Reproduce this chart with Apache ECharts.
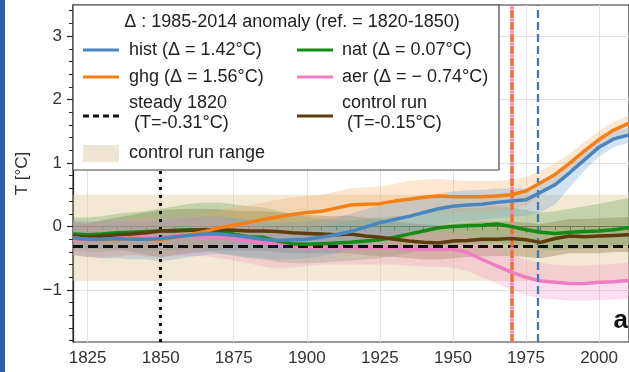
<!DOCTYPE html>
<html>
<head>
<meta charset="utf-8">
<title>T anomaly</title>
<script src="https://cdn.jsdelivr.net/npm/echarts@6/dist/echarts.min.js"></script>
<style>
  html, body { margin: 0; padding: 0; background: #fff; }
  #main { width: 629px; height: 372px; }
</style>
</head>
<body>
<div id="main"></div>
<script type="text/javascript">
// years (5-year steps)
const years = [1820, 1825, 1830, 1835, 1840, 1845, 1850, 1855, 1860, 1865,
               1870, 1875, 1880, 1885, 1890, 1895, 1900, 1905, 1910, 1915,
               1920, 1925, 1930, 1935, 1940, 1945, 1950, 1955, 1960, 1965,
               1970, 1975, 1980, 1985, 1990, 1995, 2000, 2005, 2010, 2015];

// ensemble means [°C]
const hist = [-0.18, -0.2, -0.2, -0.19, -0.2, -0.2, -0.19, -0.16, -0.14, -0.12,
              -0.12, -0.14, -0.17, -0.2, -0.22, -0.21, -0.2, -0.17, -0.13, -0.08,
              -0.01, 0.06, 0.11, 0.16, 0.22, 0.28, 0.32, 0.34, 0.35, 0.38,
              0.4, 0.42, 0.54, 0.66, 0.85, 1.05, 1.25, 1.38, 1.44, 1.48];
const ghg = [-0.18, -0.2, -0.21, -0.2, -0.18, -0.2, -0.21, -0.17, -0.13, -0.08,
             -0.02, 0.02, 0.06, 0.11, 0.15, 0.19, 0.22, 0.24, 0.29, 0.34,
             0.35, 0.36, 0.4, 0.43, 0.46, 0.48, 0.47, 0.47, 0.47, 0.48,
             0.5, 0.56, 0.69, 0.82, 1.0, 1.19, 1.37, 1.52, 1.62, 1.68];
const nat = [-0.12, -0.13, -0.12, -0.1, -0.09, -0.08, -0.07, -0.06, -0.05, -0.06,
             -0.09, -0.12, -0.16, -0.17, -0.23, -0.27, -0.28, -0.27, -0.26, -0.25,
             -0.23, -0.21, -0.17, -0.12, -0.07, -0.02, 0.0, 0.01, 0.02, 0.04,
             0.0, -0.05, -0.09, -0.11, -0.09, -0.08, -0.07, -0.05, -0.02, 0.0];
const aer = [-0.2, -0.21, -0.2, -0.18, -0.17, -0.16, -0.17, -0.15, -0.15, -0.16,
             -0.17, -0.2, -0.23, -0.26, -0.28, -0.31, -0.33, -0.33, -0.33, -0.33,
             -0.33, -0.33, -0.34, -0.35, -0.36, -0.36, -0.36, -0.41, -0.52, -0.62,
             -0.72, -0.8, -0.86, -0.88, -0.9, -0.9, -0.88, -0.87, -0.85, -0.85];
const ctrl = [-0.15, -0.17, -0.15, -0.13, -0.12, -0.1, -0.07, -0.07, -0.06, -0.05,
              -0.05, -0.06, -0.07, -0.07, -0.08, -0.1, -0.11, -0.12, -0.13, -0.12,
              -0.15, -0.17, -0.2, -0.23, -0.25, -0.26, -0.23, -0.22, -0.2, -0.2,
              -0.19, -0.21, -0.25, -0.19, -0.15, -0.16, -0.15, -0.14, -0.13, -0.13];

// ensemble spread (lower / upper)
const histLo = [-0.45, -0.48, -0.5, -0.5, -0.52, -0.52, -0.55, -0.52, -0.48, -0.45,
                -0.43, -0.45, -0.48, -0.5, -0.52, -0.52, -0.5, -0.47, -0.42, -0.36,
                -0.3, -0.22, -0.16, -0.1, -0.04, 0.02, 0.06, 0.08, 0.1, 0.13,
                0.15, 0.17, 0.22, 0.35, 0.62, 0.88, 1.1, 1.25, 1.32, 1.36];
const histHi = [0.1, 0.08, 0.08, 0.09, 0.08, 0.08, 0.1, 0.12, 0.14, 0.16,
                0.16, 0.14, 0.11, 0.08, 0.06, 0.07, 0.08, 0.11, 0.15, 0.2,
                0.27, 0.33, 0.38, 0.42, 0.47, 0.52, 0.55, 0.57, 0.58, 0.6,
                0.6, 0.6, 0.68, 0.8, 0.98, 1.17, 1.37, 1.5, 1.56, 1.6];
const ghgLo = [-0.45, -0.48, -0.5, -0.48, -0.45, -0.48, -0.5, -0.45, -0.4, -0.35,
               -0.28, -0.24, -0.2, -0.15, -0.1, -0.06, -0.03, 0.0, 0.04, 0.08,
               0.1, 0.11, 0.14, 0.17, 0.2, 0.22, 0.22, 0.22, 0.22, 0.24,
               0.27, 0.33, 0.48, 0.65, 0.85, 1.05, 1.23, 1.38, 1.48, 1.55];
const ghgHi = [0.08, 0.06, 0.05, 0.07, 0.1, 0.08, 0.07, 0.1, 0.14, 0.2,
               0.25, 0.3, 0.33, 0.38, 0.42, 0.46, 0.48, 0.5, 0.55, 0.6,
               0.62, 0.63, 0.67, 0.72, 0.74, 0.75, 0.73, 0.72, 0.72, 0.72,
               0.74, 0.78, 0.88, 1.0, 1.15, 1.33, 1.5, 1.65, 1.75, 1.8];
const natLo = [-0.38, -0.4, -0.4, -0.38, -0.38, -0.38, -0.38, -0.37, -0.36, -0.38,
               -0.42, -0.46, -0.5, -0.52, -0.56, -0.58, -0.58, -0.57, -0.55, -0.54,
               -0.52, -0.5, -0.46, -0.42, -0.37, -0.32, -0.3, -0.28, -0.28, -0.26,
               -0.28, -0.32, -0.36, -0.38, -0.36, -0.35, -0.34, -0.32, -0.3, -0.28];
const natHi = [0.14, 0.14, 0.16, 0.2, 0.22, 0.25, 0.28, 0.32, 0.36, 0.38,
               0.38, 0.35, 0.32, 0.3, 0.25, 0.2, 0.15, 0.12, 0.1, 0.1,
               0.12, 0.14, 0.16, 0.18, 0.22, 0.26, 0.28, 0.3, 0.3, 0.32,
               0.3, 0.26, 0.22, 0.24, 0.28, 0.32, 0.36, 0.4, 0.45, 0.48];
const aerLo = [-0.45, -0.48, -0.48, -0.46, -0.45, -0.46, -0.48, -0.47, -0.46, -0.47,
               -0.5, -0.53, -0.58, -0.63, -0.66, -0.65, -0.62, -0.6, -0.6, -0.6,
               -0.6, -0.6, -0.6, -0.62, -0.63, -0.63, -0.65, -0.7, -0.8, -0.9,
               -1.0, -1.08, -1.13, -1.15, -1.17, -1.17, -1.16, -1.15, -1.14, -1.14];
const aerHi = [0.08, 0.05, 0.07, 0.1, 0.12, 0.13, 0.12, 0.14, 0.14, 0.13,
               0.12, 0.08, 0.04, 0.0, -0.03, -0.05, -0.06, -0.06, -0.06, -0.06,
               -0.06, -0.06, -0.07, -0.08, -0.09, -0.1, -0.1, -0.14, -0.25, -0.35,
               -0.45, -0.52, -0.57, -0.6, -0.62, -0.62, -0.6, -0.59, -0.57, -0.56];
const ctrlLo = [-0.32, -0.35, -0.35, -0.36, -0.4, -0.45, -0.48, -0.45, -0.42, -0.4,
                -0.38, -0.38, -0.38, -0.38, -0.4, -0.42, -0.42, -0.42, -0.42, -0.42,
                -0.45, -0.47, -0.48, -0.5, -0.52, -0.52, -0.5, -0.48, -0.47, -0.47,
                -0.46, -0.48, -0.5, -0.46, -0.42, -0.42, -0.42, -0.4, -0.4, -0.4];
const ctrlHi = [0.05, 0.05, 0.1, 0.14, 0.18, 0.22, 0.26, 0.27, 0.28, 0.28,
                0.27, 0.25, 0.24, 0.24, 0.22, 0.2, 0.18, 0.17, 0.16, 0.17,
                0.14, 0.12, 0.08, 0.05, 0.03, 0.02, 0.04, 0.06, 0.08, 0.08,
                0.08, 0.06, 0.04, 0.08, 0.12, 0.12, 0.13, 0.14, 0.15, 0.15];

// reference levels
const steady1820 = -0.31;
const ctrlRange = [-0.86, 0.5];
const refYear = 1850;
const ghgYear = 1970;
const histYear = 1979;

// ticks
const xMajor = [1825, 1850, 1875, 1900, 1925, 1950, 1975, 2000];
const yMajor = [-1, 0, 1, 2, 3];
const xMinor = [];
for (let v = 1820; v <= 2010; v += 5) if (v % 25 !== 0) xMinor.push(v);
const yMinor = [];
for (let k = -9; k <= 17; k++) if (k % 5 !== 0) yMinor.push(+(k * 0.2).toFixed(1));

const C = {
    hist: '#4a85c0', ghg: '#f57f17', nat: '#158a15', aer: '#f07cc4', ctrl: '#5e3c0c'
};
const FONT = 'Liberation Sans, Arial, sans-serif';

function pairs(v) { return years.map((y, i) => [y, v[i]]); }

// spread band as one polygon through the axis scales
function band(name, lo, hi, color) {
    return {
        type: 'custom', name: name + 'Band', data: [[years[0], lo[0]]], silent: true, z: 2, clip: true,
        renderItem: function (params, api) {
            const pts = [];
            for (let i = 0; i < years.length; i++) pts.push(api.coord([years[i], hi[i]]));
            for (let i = years.length - 1; i >= 0; i--) pts.push(api.coord([years[i], lo[i]]));
            return { type: 'polygon', shape: { points: pts }, style: { fill: color } };
        }
    };
}

function mean(name, v, color, z) {
    return { type: 'line', name: name, data: pairs(v), symbol: 'none',
             lineStyle: { color: color, width: 3.5 }, silent: true, z: z || 4 };
}

let myChart = echarts.init(document.getElementById('main'));

const xMin = 1820, xMax = 2010.25;
const yMin = -1.82, yMax = 3.49;

// legend drawn by hand (two columns)
const lx1 = 83, lx2 = 297, tx1 = 129, tx2 = 342;
const LF = '18px ' + FONT;
const txt = (x, y, s, align) => ({
    type: 'text', x: x, y: y, z: 101,
    style: { text: s, fill: '#222', font: LF, verticalAlign: 'middle', align: align || 'left' }
});
const seg = (x, y, color, dash) => ({
    type: 'line', z: 101,
    shape: { x1: x, y1: y, x2: x + 36, y2: y },
    style: { stroke: color, lineWidth: 3, lineDash: dash || null }
});

myChart.setOption({
    animation: false,
    grid: { left: 73, top: 5, right: -2, bottom: 30, show: true, borderColor: '#333', borderWidth: 1.2 },
    xAxis: [{
        type: 'value', min: xMin, max: xMax, position: 'bottom',
        axisLine: { lineStyle: { color: '#222', width: 1.2 } },
        axisTick: { customValues: xMajor, length: 6, lineStyle: { color: '#222', width: 1.2 } },
        axisLabel: { customValues: xMajor, fontSize: 17, color: '#333', margin: 8, fontFamily: FONT,
                     formatter: v => String(v) },
        splitLine: { show: true, lineStyle: { color: '#e2e2e2', width: 1 } }
    }, {
        type: 'value', min: xMin, max: xMax, position: 'bottom', offset: 0,
        axisLine: { show: false },
        axisTick: { customValues: xMinor, length: 4, lineStyle: { color: '#222', width: 1 } },
        axisLabel: { show: false }, splitLine: { show: false }
    }],
    yAxis: [{
        type: 'value', min: yMin, max: yMax, position: 'left',
        name: 'T [°C]', nameLocation: 'middle', nameGap: 42, nameRotate: 90,
        nameTextStyle: { fontSize: 17, color: '#333', fontFamily: FONT },
        axisLine: { show: true, lineStyle: { color: '#222', width: 1.2 } },
        axisTick: { show: true, customValues: yMajor, length: 6, lineStyle: { color: '#222', width: 1.2 } },
        axisLabel: { customValues: yMajor, fontSize: 17, color: '#333', margin: 11, fontFamily: FONT,
                     formatter: v => (v < 0 ? '\u2212' + Math.abs(v) : '' + v) },
        splitLine: { show: true, lineStyle: { color: '#e2e2e2', width: 1 } }
    }, {
        type: 'value', min: yMin, max: yMax, position: 'left', offset: 0,
        axisLine: { show: false },
        axisTick: { show: true, customValues: yMinor, length: 4, lineStyle: { color: '#222', width: 1 } },
        axisLabel: { show: false }, splitLine: { show: false }
    }],
    series: [
        { type: 'line', name: 'range', data: [], silent: true, z: 1,
          markArea: { silent: true, itemStyle: { color: 'rgba(226,205,160,0.45)' },
                      data: [[{ yAxis: ctrlRange[0] }, { yAxis: ctrlRange[1] }]] } },
        band('ctrl', ctrlLo, ctrlHi, 'rgba(130,95,50,0.32)'),
        band('nat', natLo, natHi, 'rgba(90,160,80,0.3)'),
        band('aer', aerLo, aerHi, 'rgba(245,140,195,0.28)'),
        band('ghg', ghgLo, ghgHi, 'rgba(250,165,90,0.28)'),
        band('hist', histLo, histHi, 'rgba(110,160,210,0.3)'),
        mean('aer', aer, C.aer, 4),
        mean('nat', nat, C.nat, 5),
        mean('ctrl', ctrl, C.ctrl, 6),
        mean('ghg', ghg, C.ghg, 7),
        mean('hist', hist, C.hist, 8),
        { type: 'line', name: 'refs', data: [], silent: true, z: 9,
          markLine: {
              silent: true, symbol: 'none', label: { show: false }, animation: false,
              data: [
                  { yAxis: steady1820, lineStyle: { color: '#111', width: 2.8, type: [10, 5] } },
                  { xAxis: refYear, lineStyle: { color: '#111', width: 3, type: [3, 5] } },
                  { xAxis: ghgYear, lineStyle: { color: '#f0703a', width: 3.5, type: [8, 4] } },
                  { xAxis: ghgYear, lineStyle: { color: '#f47cc0', width: 3.5, type: [3, 9], dashOffset: -8.5 } },
                  { xAxis: histYear, lineStyle: { color: '#4a78a8', width: 2.3, type: [8, 4] } }
              ]
          } }
    ],
    graphic: [
        { type: 'rect', left: 0, top: 0, z: 100, shape: { width: 5, height: 372 }, style: { fill: '#2f5fa6' } },
        { type: 'rect', z: 100, shape: { x: 73, y: 5, width: 426, height: 165 },
          style: { fill: '#fff', stroke: '#444', lineWidth: 1.2 } },
        txt(292, 22, '\u0394 : 1985-2014 anomaly (ref. = 1820-1850)', 'center'),
        seg(lx1, 50, C.hist), txt(tx1, 50, 'hist (\u0394 = 1.42°C)'),
        seg(lx1, 77, C.ghg), txt(tx1, 77, 'ghg (\u0394 = 1.56°C)'),
        seg(lx1, 116, '#111', [6, 4]), txt(tx1, 103, 'steady 1820'), txt(tx1, 123, ' (T=-0.31°C)'),
        { type: 'rect', z: 101, shape: { x: lx1, y: 145, width: 36, height: 17 }, style: { fill: '#efe5d2' } },
        txt(tx1, 153, 'control run range'),
        seg(lx2, 50, C.nat), txt(tx2, 50, 'nat (\u0394 = 0.07°C)'),
        seg(lx2, 77, C.aer), txt(tx2, 77, 'aer (\u0394 = \u2212 0.74°C)'),
        seg(lx2, 116, C.ctrl), txt(tx2, 103, 'control run'), txt(tx2, 123, ' (T=-0.15°C)'),
        { type: 'text', z: 101, x: 628, y: 321,
          style: { text: 'a', fill: '#111', font: 'bold 26px ' + FONT, align: 'right', verticalAlign: 'middle' } }
    ]
});
</script>
</body>
</html>
